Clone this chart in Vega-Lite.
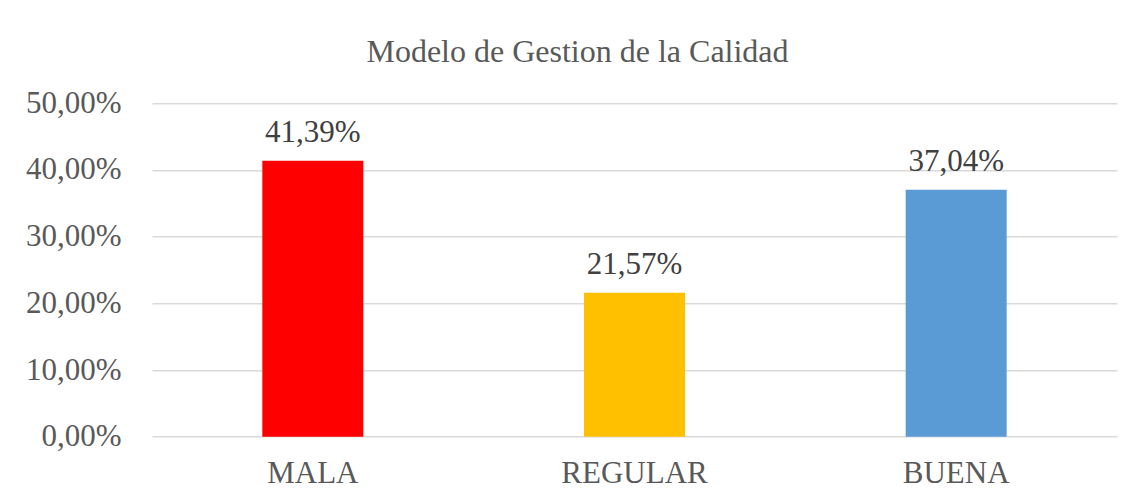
{
  "$schema": "https://vega.github.io/schema/vega-lite/v6.json",
  "autosize": {"type": "none"},
  "width": 965,
  "height": 333.4,
  "padding": {"left": 152, "top": 103.3, "right": 16, "bottom": 64.3},
  "background": "#ffffff",
  "config": {
    "locale": {"number": {"decimal": ",", "thousands": ".", "grouping": [3], "currency": ["", " €"]}},
    "view": {"stroke": null},
    "font": "Liberation Serif"
  },
  "title": {
    "text": "Modelo de Gestion de la Calidad",
    "font": "Liberation Serif",
    "fontSize": 32,
    "fontWeight": "normal",
    "color": "#595959",
    "anchor": "middle",
    "frame": "group",
    "dx": -57,
    "dy": 33,
    "baseline": "alphabetic",
    "offset": 26
  },
  "data": {
    "values": [
      {"categoria": "MALA", "porcentaje": 0.4139},
      {"categoria": "REGULAR", "porcentaje": 0.2157},
      {"categoria": "BUENA", "porcentaje": 0.3704}
    ]
  },
  "encoding": {
    "x": {
      "field": "categoria",
      "type": "nominal",
      "sort": ["MALA", "REGULAR", "BUENA"],
      "scale": {"paddingInner": 0, "paddingOuter": 0},
      "axis": {
        "title": null,
        "labelAngle": 0,
        "domain": false,
        "ticks": false,
        "tickSize": 0,
        "labelFont": "Liberation Serif",
        "labelFontSize": 31,
        "labelColor": "#595959",
        "labelPadding": 22
      }
    },
    "y": {
      "field": "porcentaje",
      "type": "quantitative",
      "scale": {"domain": [0, 0.5], "nice": false},
      "axis": {
        "title": null,
        "values": [0, 0.1, 0.2, 0.3, 0.4, 0.5],
        "format": ".2%",
        "domain": false,
        "ticks": false,
        "tickSize": 0,
        "grid": true,
        "gridColor": "#D9D9D9",
        "gridWidth": 1.5,
        "labelFont": "Liberation Serif",
        "labelFontSize": 31,
        "labelColor": "#595959",
        "labelPadding": 31
      }
    }
  },
  "layer": [
    {
      "mark": {"type": "bar", "width": {"band": 0.314}},
      "encoding": {
        "color": {
          "field": "categoria",
          "type": "nominal",
          "scale": {"domain": ["MALA", "REGULAR", "BUENA"], "range": ["#FF0000", "#FFC000", "#5B9BD5"]},
          "legend": null
        }
      }
    },
    {
      "mark": {
        "type": "text",
        "baseline": "alphabetic",
        "dy": -19,
        "font": "Liberation Serif",
        "fontSize": 31,
        "color": "#404040"
      },
      "encoding": {
        "text": {"field": "porcentaje", "type": "quantitative", "format": ".2%"}
      }
    }
  ]
}
